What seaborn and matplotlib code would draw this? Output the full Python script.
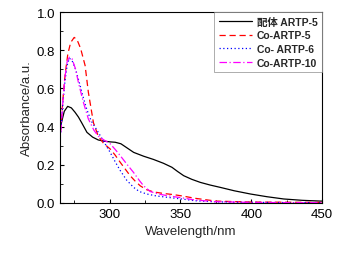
import matplotlib
matplotlib.use("Agg")
import matplotlib.pyplot as plt
import seaborn as sns
import pandas as pd
from matplotlib.ticker import MultipleLocator, FormatStrFormatter

sns.set_theme(style="white")
plt.rcParams['font.family'] = ['Liberation Sans', 'Noto Sans CJK SC', 'DejaVu Sans']

labels = ["配体 ARTP-5", "Co-ARTP-5", "Co- ARTP-6", "Co-ARTP-10"]

wl_black = [265.5, 268, 270.4, 273, 275.6, 278, 280.3, 284, 288, 292, 296, 300.4, 304, 308, 312, 317, 324, 331, 338, 344, 348, 352.3, 358, 364, 371, 378, 388, 399.5, 411, 423, 436, 449, 450]
ab_black = [0.405, 0.48, 0.506, 0.498, 0.475, 0.45, 0.42, 0.37, 0.345, 0.33, 0.324, 0.32, 0.318, 0.31, 0.29, 0.265, 0.245, 0.228, 0.208, 0.187, 0.165, 0.143, 0.124, 0.108, 0.094, 0.082, 0.064, 0.047, 0.033, 0.021, 0.014, 0.01, 0.01]

wl_red = [265.5, 267, 268.5, 270.5, 272.5, 275, 277, 279.5, 282.7, 285, 288.6, 292, 296, 300.4, 304, 307.5, 311, 314.5, 318, 321.6, 326, 331, 338, 345, 352, 360, 375, 400, 425, 450]
ab_red = [0.38, 0.54, 0.667, 0.78, 0.84, 0.867, 0.855, 0.81, 0.72, 0.58, 0.42, 0.35, 0.31, 0.283, 0.25, 0.213, 0.178, 0.143, 0.115, 0.09, 0.07, 0.058, 0.05, 0.044, 0.036, 0.025, 0.01, 0.005, 0.004, 0.003]

wl_blue = [265.5, 267, 268.5, 270, 271.6, 273.5, 276, 279, 281.5, 283.9, 287, 292, 296, 300.4, 304, 307.5, 312, 316.9, 321, 326.3, 333, 340.5, 352, 360, 375, 390, 410, 430, 450]
ab_blue = [0.37, 0.52, 0.64, 0.72, 0.758, 0.745, 0.70, 0.62, 0.55, 0.49, 0.43, 0.37, 0.32, 0.265, 0.215, 0.17, 0.12, 0.082, 0.06, 0.047, 0.037, 0.03, 0.02, 0.012, 0.006, 0.004, 0.003, 0.002, 0.002]

wl_mag = [265.5, 267, 268.5, 270, 271.6, 273.5, 276, 278, 281.5, 285, 289, 292, 296, 300.4, 304, 307.5, 312, 316.9, 321, 324, 328.7, 335, 342, 352, 360, 375, 400, 425, 450]
ab_mag = [0.37, 0.53, 0.66, 0.74, 0.763, 0.755, 0.70, 0.63, 0.527, 0.44, 0.38, 0.35, 0.33, 0.31, 0.28, 0.248, 0.205, 0.16, 0.118, 0.09, 0.06, 0.046, 0.037, 0.026, 0.016, 0.007, 0.003, 0.002, 0.002]

frames = []
for lab, w, a in zip(labels, [wl_black, wl_red, wl_blue, wl_mag], [ab_black, ab_red, ab_blue, ab_mag]):
    frames.append(pd.DataFrame({"wl": w, "ab": a, "series": lab}))
df = pd.concat(frames, ignore_index=True)

colors = ["black", "#ff0000", "#0000ff", "#ff00ff"]
styles = ["-", (0, (5, 3)), (0, (1, 2)), (0, (6, 2, 1, 2))]

fig = plt.figure(figsize=(3.43, 2.55), dpi=100)
ax = fig.add_axes([0.175, 0.2, 0.764, 0.749])
for lab, c, ls in zip(labels, colors, styles):
    sub = df[df.series == lab]
    sns.lineplot(data=sub, x="wl", y="ab", ax=ax, color=c, linestyle=ls, linewidth=0.9, label=lab, sort=False)

ax.set_xlim(265, 450)
ax.set_ylim(0, 1.0)
ax.set_xticks([300, 350, 400, 450])
ax.xaxis.set_minor_locator(MultipleLocator(25))
ax.yaxis.set_major_locator(MultipleLocator(0.2))
ax.yaxis.set_minor_locator(MultipleLocator(0.1))
ax.yaxis.set_major_formatter(FormatStrFormatter("%.1f"))
ax.tick_params(which="both", direction="in", bottom=True, left=True, top=False, right=False, labelsize=9.5, colors="black")
ax.tick_params(which="major", length=3, width=0.8)
ax.tick_params(which="minor", length=2, width=0.6)
for s in ax.spines.values():
    s.set_color("black")
    s.set_linewidth(0.8)
ax.set_xlabel("Wavelength/nm", fontsize=9.5, labelpad=4)
ax.set_ylabel("Absorbance/a.u.", fontsize=9.5, labelpad=3)

leg = ax.legend(loc="upper right", frameon=True, fancybox=False, borderaxespad=0.0,
                handlelength=3.2, handletextpad=0.4, labelspacing=0.35, borderpad=0.45,
                prop={"weight": "bold", "size": 7.5})
leg.get_frame().set_edgecolor("#888888")
leg.get_frame().set_linewidth(0.6)

fig.savefig("out.png", dpi=100)
